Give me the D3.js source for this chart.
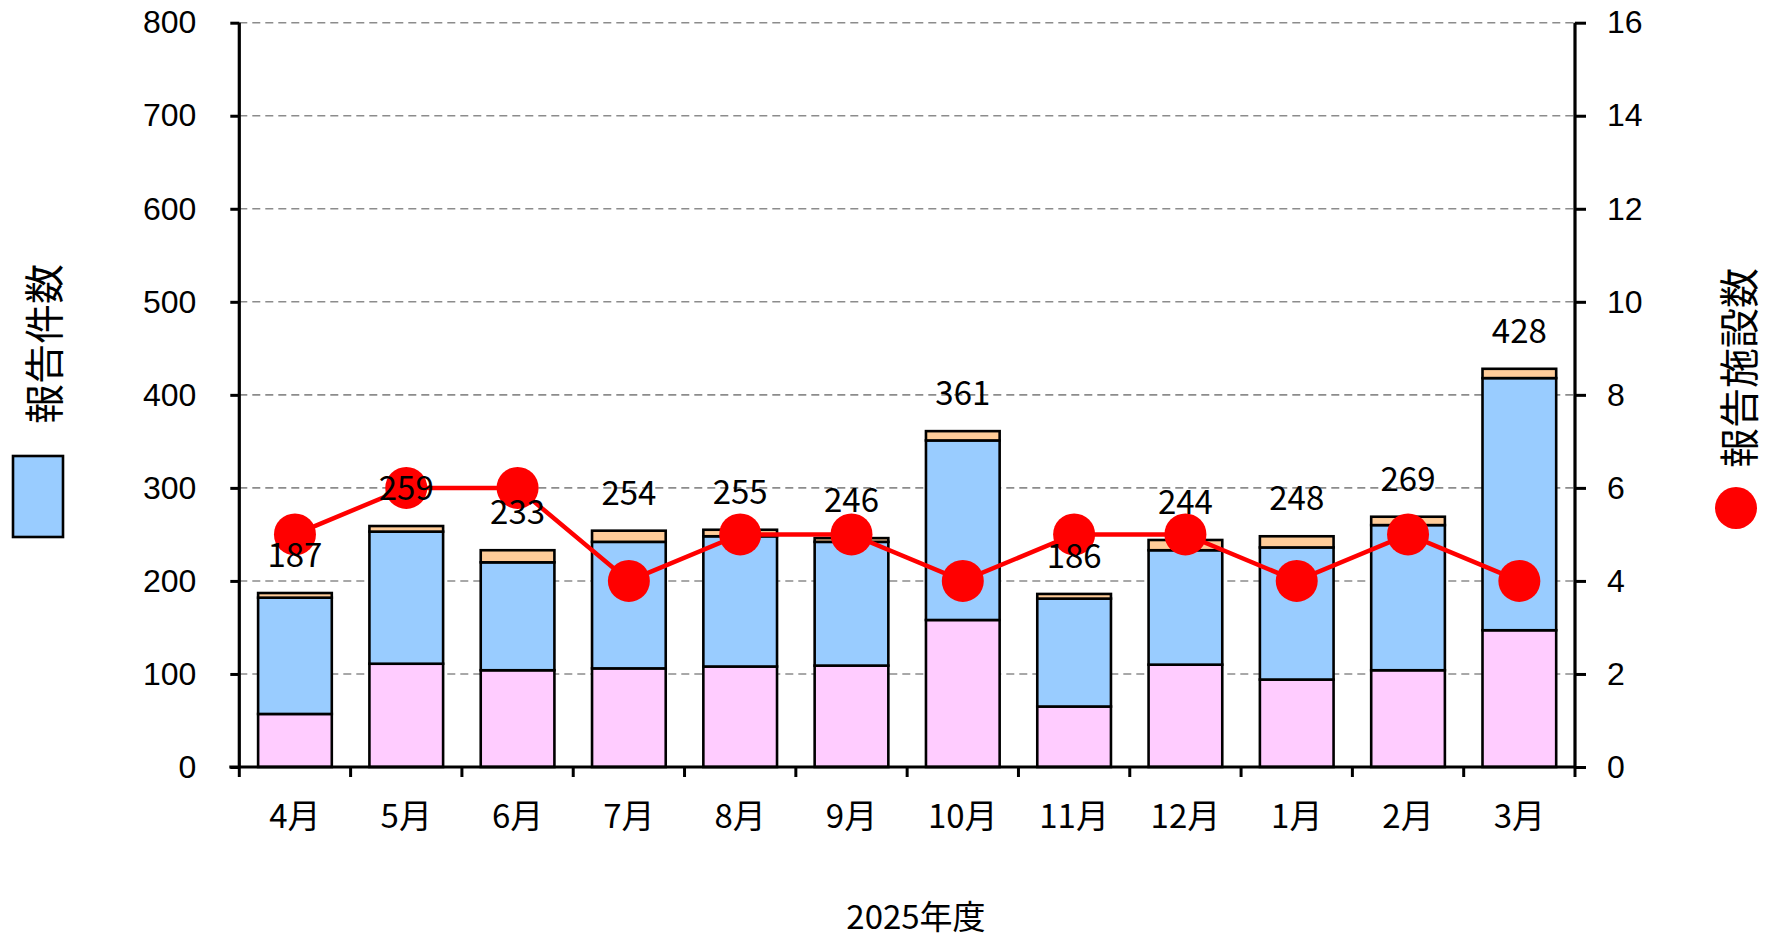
<!DOCTYPE html>
<html><head><meta charset="utf-8">
<script src="https://cdn.jsdelivr.net/npm/d3@7"></script>
<style>
html,body{margin:0;padding:0;background:#fff;}
svg{display:block;}
</style>
</head><body>
<svg id="chart" width="1769" height="938"></svg>
<script>
const months = ["4月","5月","6月","7月","8月","9月","10月","11月","12月","1月","2月","3月"];
const pinkVals   = [57, 111, 104, 106, 108, 109, 158, 65, 110, 94, 104, 147];
const blueVals   = [125, 142, 116, 136, 140, 133, 193, 116, 123, 142, 156, 271];
const orangeVals = [5, 6, 13, 12, 7, 4, 10, 5, 11, 12, 9, 10];
const totals     = [187, 259, 233, 254, 255, 246, 361, 186, 244, 248, 269, 428];
const facilities = [5, 6, 6, 4, 5, 5, 4, 5, 5, 4, 5, 4];
const leftTicks  = [0,100,200,300,400,500,600,700,800];
const rightTicks = [0,2,4,6,8,10,12,14,16];
const xTitle = "2025年度";
const leftTitle = "報告件数";
const rightTitle = "報告施設数";

const svg = d3.select("#chart");
const L = 239.3, R = 1575, T = 22.7, B = 767;
const x = d3.scaleBand().domain(months).range([L, R]).paddingInner(0.338).paddingOuter(0.169);
const y = d3.scaleLinear().domain([0, 800]).range([B, T]);
const y2 = d3.scaleLinear().domain([0, 16]).range([B, T]);

const numFont = "'Liberation Sans', Arial, sans-serif";
const jpFont = "'Noto Sans CJK JP', 'Noto Sans', sans-serif";

// gridlines
svg.append("g").selectAll("line").data(leftTicks.filter(d => d > 0)).join("line")
  .attr("x1", L).attr("x2", R)
  .attr("y1", d => y(d)).attr("y2", d => y(d))
  .attr("stroke", "#8c8c8c").attr("stroke-width", 1.6).attr("stroke-dasharray", "8,5");

// stacked bars
const rows = months.map((m, i) => ({ m, pink: pinkVals[i], blue: blueVals[i], orange: orangeVals[i] }));
const stack = d3.stack().keys(["pink", "blue", "orange"])(rows);
const colors = { pink: "#FFCCFF", blue: "#99CCFF", orange: "#FFCC99" };
svg.append("g").selectAll("g").data(stack).join("g")
  .attr("fill", d => colors[d.key])
  .selectAll("rect").data(d => d).join("rect")
  .attr("x", d => x(d.data.m))
  .attr("width", x.bandwidth())
  .attr("y", d => y(d[1]))
  .attr("height", d => y(d[0]) - y(d[1]))
  .attr("stroke", "#000").attr("stroke-width", 2.6);

// left axis
const gL = svg.append("g").attr("transform", `translate(${L},0)`)
  .call(d3.axisLeft(y).tickValues(leftTicks).tickSize(9).tickPadding(34));
gL.select(".domain").attr("stroke-width", 3.2).attr("d", `M0,${B}V${T}`);
gL.selectAll(".tick line").attr("stroke-width", 3);
gL.selectAll(".tick text").attr("font-family", numFont).attr("font-size", 32).attr("fill", "#000").attr("x", -43);

// right axis
const gR = svg.append("g").attr("transform", `translate(${R},0)`)
  .call(d3.axisRight(y2).tickValues(rightTicks).tickSize(11).tickPadding(21));
gR.select(".domain").attr("stroke-width", 3.2).attr("d", `M0,${B}V${T}`);
gR.selectAll(".tick line").attr("stroke-width", 3);
gR.selectAll(".tick text").attr("font-family", numFont).attr("font-size", 32).attr("fill", "#000");

// bottom axis
const boundaries = months.map(m => x(m) - x.step() * x.paddingInner() / 2).concat([R]);
const gB = svg.append("g");
gB.append("line").attr("x1", L - 10).attr("x2", R).attr("y1", B).attr("y2", B)
  .attr("stroke", "#000").attr("stroke-width", 3.2);
gB.selectAll("line.tk").data(boundaries).join("line").attr("class", "tk")
  .attr("x1", d => d).attr("x2", d => d).attr("y1", B).attr("y2", B + 10)
  .attr("stroke", "#000").attr("stroke-width", 3);
gB.selectAll("text").data(months).join("text")
  .attr("x", d => x(d) + x.bandwidth() / 2).attr("y", 814)
  .attr("text-anchor", "middle").attr("dominant-baseline", "central")
  .attr("font-family", jpFont).attr("font-size", 33).attr("fill", "#000")
  .text(d => d);

// line series
const lineData = months.map((m, i) => ({ m, v: facilities[i] }));
svg.append("path").datum(lineData)
  .attr("fill", "none").attr("stroke", "#FF0000").attr("stroke-width", 4.5)
  .attr("d", d3.line().x(d => x(d.m) + x.bandwidth() / 2).y(d => y2(d.v)));
svg.append("g").selectAll("circle").data(lineData).join("circle")
  .attr("cx", d => x(d.m) + x.bandwidth() / 2).attr("cy", d => y2(d.v)).attr("r", 21)
  .attr("fill", "#FF0000");

// total labels
svg.append("g").selectAll("text").data(months).join("text")
  .attr("x", d => x(d) + x.bandwidth() / 2)
  .attr("y", (d, i) => y(totals[i]) - 40)
  .attr("text-anchor", "middle").attr("dominant-baseline", "central")
  .attr("font-family", jpFont).attr("font-size", 33).attr("fill", "#000")
  .text((d, i) => totals[i]);

// x title
svg.append("text").attr("x", 916).attr("y", 915)
  .attr("text-anchor", "middle").attr("dominant-baseline", "central")
  .attr("font-family", jpFont).attr("font-size", 33).attr("fill", "#000").text(xTitle);

// left title + legend
svg.append("text").attr("transform", "translate(42,344) rotate(-90)")
  .attr("text-anchor", "middle").attr("dominant-baseline", "central")
  .attr("font-family", jpFont).attr("font-size", 40).attr("fill", "#000").text(leftTitle);
svg.append("rect").attr("x", 13).attr("y", 456).attr("width", 50).attr("height", 81)
  .attr("fill", "#99CCFF").attr("stroke", "#000").attr("stroke-width", 2.6);

// right title + legend
svg.append("text").attr("transform", "translate(1737,368) rotate(-90)")
  .attr("text-anchor", "middle").attr("dominant-baseline", "central")
  .attr("font-family", jpFont).attr("font-size", 40).attr("fill", "#000").text(rightTitle);
svg.append("circle").attr("cx", 1736).attr("cy", 508).attr("r", 21).attr("fill", "#FF0000");
</script>
</body></html>
